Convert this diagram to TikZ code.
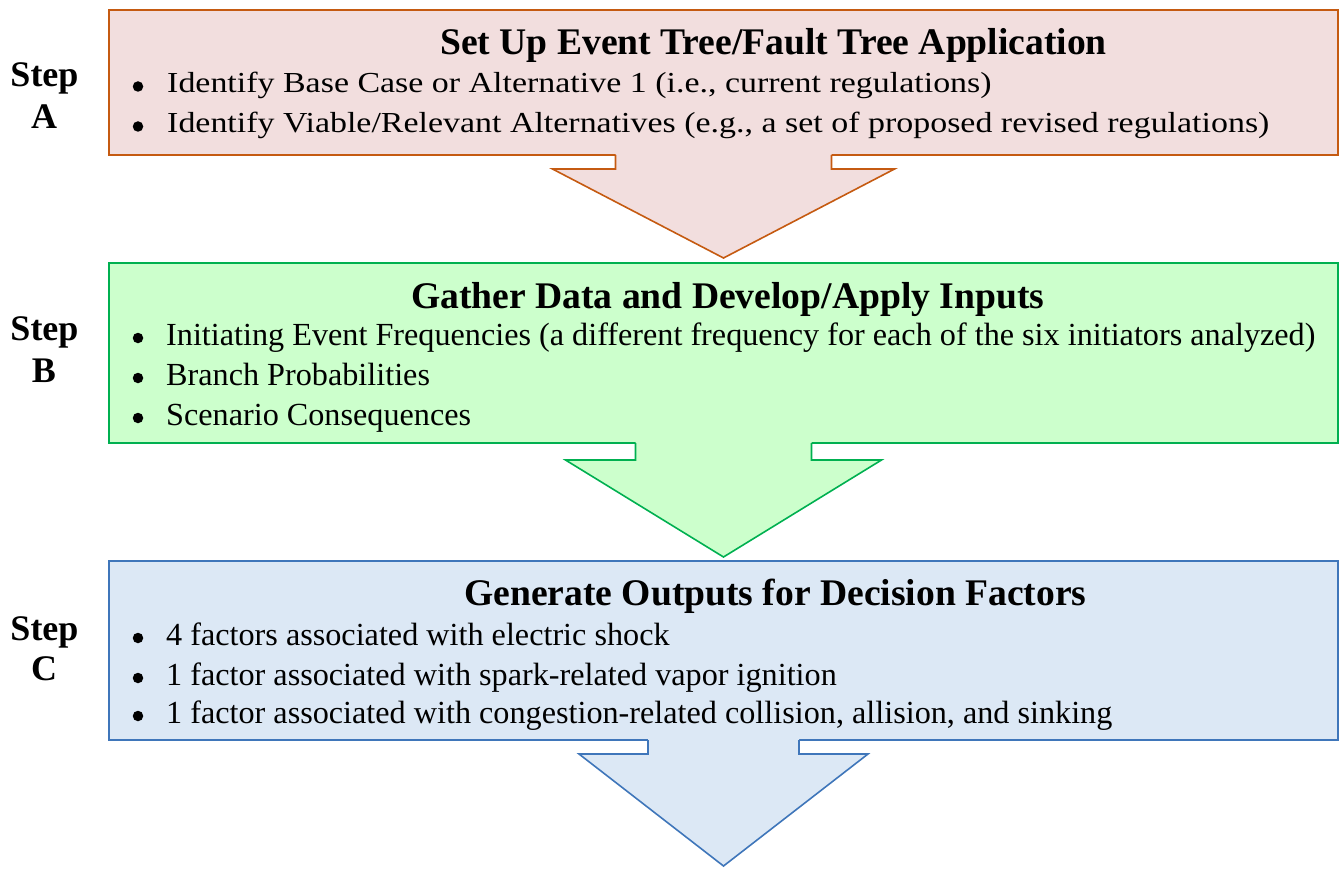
\documentclass[tikz,border=0pt]{standalone}
\usepackage{fontspec}
\setmainfont{Liberation Serif}
\usetikzlibrary{calc}

\definecolor{fillA}{HTML}{F2DEDE}
\definecolor{lineA}{HTML}{C55A11}
\definecolor{fillB}{HTML}{CCFFCC}
\definecolor{lineB}{HTML}{00B050}
\definecolor{fillC}{HTML}{DCE8F5}
\definecolor{lineC}{HTML}{3F76BA}

% arrow below a box: node, fill, line, stem half width,
% head half width, head drop, tip drop
\newcommand\stagearrow[7]{%
  \fill[#2] ($(#1.south)+(-#4,-2)$) -- ($(#1.south)+(-#4,#6)$)
    -- ($(#1.south)+(-#5,#6)$) -- ($(#1.south)+(0,#7)$)
    -- ($(#1.south)+(#5,#6)$) -- ($(#1.south)+(#4,#6)$)
    -- ($(#1.south)+(#4,-2)$) -- cycle;
  \draw[#3, edge] ($(#1.south)+(-#4,0)$) -- ($(#1.south)+(-#4,#6)$)
    -- ($(#1.south)+(-#5,#6)$) -- ($(#1.south)+(0,#7)$)
    -- ($(#1.south)+(#5,#6)$) -- ($(#1.south)+(#4,#6)$)
    -- ($(#1.south)+(#4,0)$);
}
% slightly wider setting for the first box's items
\newcommand\widetext[1]{\scalebox{1.17}[1]{#1}}

\begin{document}
\begin{tikzpicture}[x=1pt,y=-1pt,
  stagebox/.style={draw, line width=1.6pt, anchor=north west, inner sep=0pt,
    outer sep=0pt, minimum width=1229pt},
  edge/.style={line width=1.6pt, line join=miter},
  title/.style={font=\fontsize{37.6}{40}\selectfont\bfseries, anchor=base west, inner sep=0pt},
  item/.style={font=\fontsize{32.2}{36}\selectfont, anchor=base west, inner sep=0pt},
  itemA/.style={font=\fontsize{29}{32}\selectfont, anchor=base west, inner sep=0pt},
  dot/.style={circle, fill=black, inner sep=0pt, minimum size=10.5pt},
  steplabel/.style={font=\fontsize{36}{40}\selectfont\bfseries, anchor=base, inner sep=0pt}]
\useasboundingbox (0,0) rectangle (1341,869);

% Step A
\node[stagebox, fill=fillA, draw=lineA, minimum height=145pt] (boxA) at (109,10) {};
\stagearrow{boxA}{fillA}{lineA}{108}{171}{14}{103}
\node[title] (tA) at (440,55) {Set Up Event Tree/Fault Tree Application};
\node[dot] (dA1) at (138,86.5) {};
\node[itemA] (iA1) at (167,93) {\widetext{Identify Base Case or Alternative 1 (i.e., current regulations)}};
\node[dot] (dA2) at (138,126.5) {};
\node[itemA] (iA2) at (167,133) {\widetext{Identify Viable/Relevant Alternatives (e.g., a set of proposed revised regulations)}};
\node[steplabel] (sA1) at (44.5,87) {Step};
\node[steplabel] (sA2) at (44,129) {A};

% Step B
\node[stagebox, fill=fillB, draw=lineB, minimum height=180pt] (boxB) at (109,263) {};
\stagearrow{boxB}{fillB}{lineB}{88}{158}{17}{114}
\node[title] (tB) at (411,308) {Gather Data and Develop/Apply Inputs};
\node[dot] (dB1) at (138,338) {};
\node[item] (iB1) at (166,345) {Initiating Event Frequencies (a different frequency for each of the six initiators analyzed)};
\node[dot] (dB2) at (138,378) {};
\node[item] (iB2) at (166,385) {Branch Probabilities};
\node[dot] (dB3) at (138,418) {};
\node[item] (iB3) at (166,425) {Scenario Consequences};
\node[steplabel] (sB1) at (44.5,340) {Step};
\node[steplabel] (sB2) at (44,382) {B};

% Step C
\node[stagebox, fill=fillC, draw=lineC, minimum height=179pt] (boxC) at (109,561) {};
\stagearrow{boxC}{fillC}{lineC}{75.5}{144.5}{14}{126}
\node[title] (tC) at (464,605) {Generate Outputs for Decision Factors};
\node[dot] (dC1) at (138,638) {};
\node[item] (iC1) at (166,645) {4 factors associated with electric shock};
\node[dot] (dC2) at (138,678) {};
\node[item] (iC2) at (166,685) {1 factor associated with spark-related vapor ignition};
\node[dot] (dC3) at (138,716) {};
\node[item] (iC3) at (166,723) {1 factor associated with congestion-related collision, allision, and sinking};
\node[steplabel] (sC1) at (44.5,640) {Step};
\node[steplabel] (sC2) at (44,680) {C};
\end{tikzpicture}
\end{document}
